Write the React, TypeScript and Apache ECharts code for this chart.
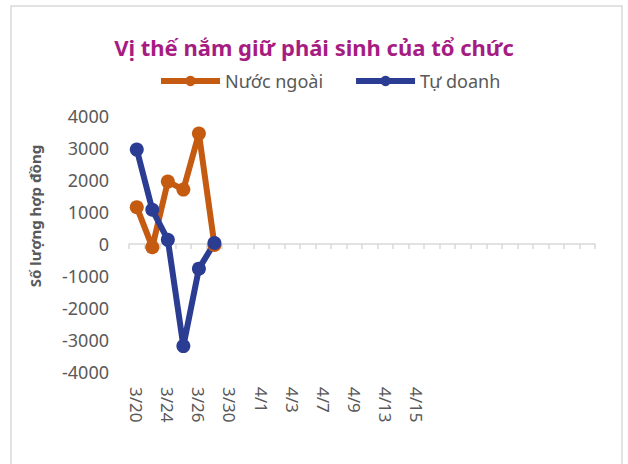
import React, { useEffect, useRef } from "react";
import * as echarts from "echarts";

const categories: string[] = [
  "3/20", "3/23", "3/24", "3/25", "3/26", "3/27", "3/30", "3/31", "4/1", "4/2",
  "4/3", "4/6", "4/7", "4/8", "4/9", "4/10", "4/13", "4/14", "4/15",
  "", "", "", "", "", "", "", "", "", "", "",
];
const nuocNgoai: number[] = [1150, -100, 1950, 1700, 3450, -30];
const tuDoanh: number[] = [2950, 1070, 130, -3190, -770, 30];
const yTicks = { min: -4000, max: 4000, interval: 1000 };

const FONT = "'Noto Sans', 'Open Sans', sans-serif";
const GREY = "#595959";

export default function App() {
  const ref = useRef<HTMLDivElement>(null);
  useEffect(() => {
    if (!ref.current) return;
    const chart = echarts.init(ref.current, undefined, { renderer: "svg" });
    chart.setOption({
      animation: false,
      backgroundColor: "#ffffff",
      textStyle: { fontFamily: FONT },
      title: {
        text: "Vị thế nắm giữ phái sinh của tổ chức",
        left: "center",
        top: 31,
        textStyle: { color: "#a61c82", fontSize: 22, fontWeight: "bold", fontFamily: FONT },
      },
      legend: {
        top: 72,
        left: 158,
        padding: 0,
        itemWidth: 59,
        itemHeight: 13,
        itemGap: 30,
        lineStyle: { width: 6 },
        textStyle: { color: GREY, fontSize: 18, fontFamily: FONT },
        data: ["Nước ngoài", "Tự doanh"],
      },
      grid: { left: 129, right: 33, top: 116, bottom: 92, containLabel: false },
      xAxis: [
        {
          type: "category",
          data: categories,
          boundaryGap: true,
          axisLine: { show: true, onZero: true, lineStyle: { color: "#d9d9d9", width: 1.5 } },
          axisTick: { show: true, interval: 0, length: 5, lineStyle: { color: "#d9d9d9", width: 1.5 } },
          axisLabel: { show: false },
          splitLine: { show: false },
        },
        {
          type: "category",
          data: categories,
          position: "bottom",
          boundaryGap: true,
          axisLine: { show: false, onZero: false },
          axisTick: { show: false },
          axisLabel: {
            show: true,
            interval: 1,
            rotate: -90,
            margin: 15,
            color: GREY,
            fontSize: 17,
            fontFamily: FONT,
          },
          splitLine: { show: false },
        },
      ],
      yAxis: {
        type: "value",
        min: yTicks.min,
        max: yTicks.max,
        interval: yTicks.interval,
        axisLine: { show: false },
        axisTick: { show: false },
        splitLine: { show: false },
        axisLabel: {
          color: GREY,
          fontSize: 18,
          margin: 20,
          fontFamily: FONT,
          formatter: (v: number) => String(v),
        },
      },
      series: [
        {
          name: "Nước ngoài",
          type: "line",
          xAxisIndex: 0,
          data: nuocNgoai,
          symbol: "circle",
          symbolSize: 14,
          showSymbol: true,
          showAllSymbol: true,
          lineStyle: { width: 6, color: "#c55a11" },
          itemStyle: { color: "#c55a11" },
        },
        {
          name: "Tự doanh",
          type: "line",
          xAxisIndex: 0,
          data: tuDoanh,
          symbol: "circle",
          symbolSize: 14,
          showSymbol: true,
          showAllSymbol: true,
          lineStyle: { width: 6, color: "#2b3d92" },
          itemStyle: { color: "#2b3d92" },
        },
      ],
      graphic: [
        {
          type: "rect",
          shape: { x: 11, y: 6, width: 611, height: 470 },
          style: { fill: "none", stroke: "#d9d9d9", lineWidth: 1.5 },
          silent: true,
        },
        {
          type: "text",
          x: 35,
          y: 216,
          rotation: Math.PI / 2,
          style: {
            text: "Số lượng hợp đồng",
            fill: GREY,
            fontSize: 15,
            fontWeight: "bold",
            fontFamily: FONT,
            align: "center",
            verticalAlign: "middle",
          },
        },
      ],
    });
    return () => chart.dispose();
  }, []);
  return (
    <div
      ref={ref}
      style={{ position: "fixed", left: 0, top: 0, width: 628, height: 464 }}
    />
  );
}
